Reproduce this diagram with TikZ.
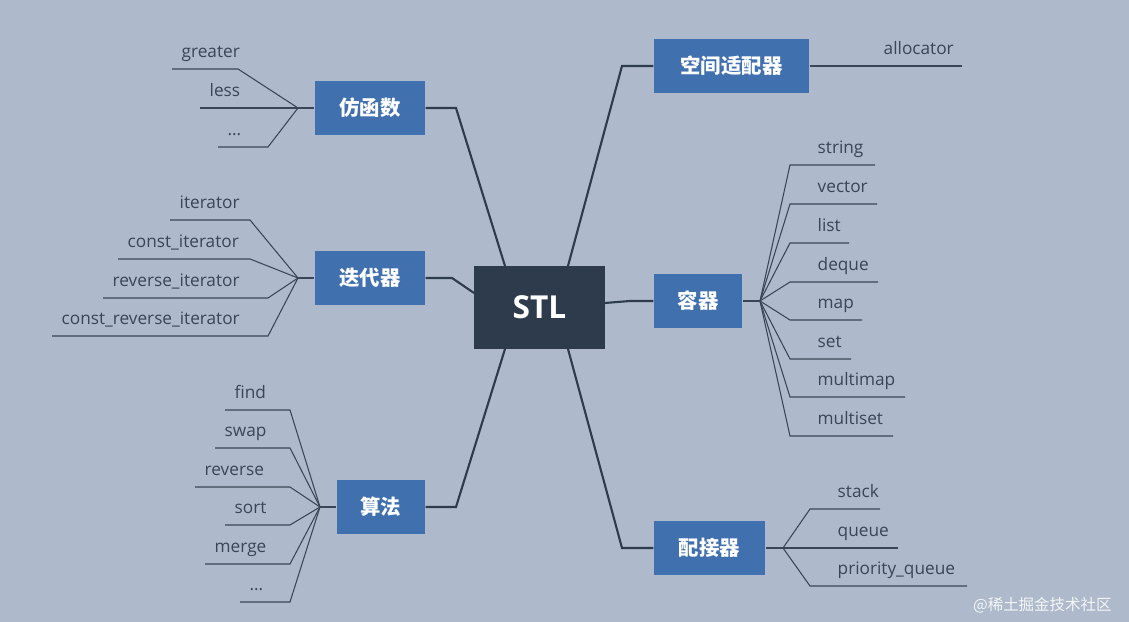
\documentclass[tikz,border=0pt]{standalone}
\usepackage{fontspec}
\setmainfont{Open Sans}
\newfontfamily\cjk{Noto Sans CJK SC}
\usetikzlibrary{positioning}
\definecolor{bgcol}{HTML}{AEBACB}
\definecolor{rootcol}{HTML}{2E3B4D}
\definecolor{boxcol}{HTML}{4070AD}
\definecolor{linecol}{HTML}{2E3B4D}
\definecolor{leafcol}{HTML}{3A4556}

\begin{document}
\begin{tikzpicture}[%
  x=0.01cm, y=-0.01cm,
  root/.style={fill=rootcol, text=white, font=\fontsize{9}{10}\selectfont\bfseries,
    minimum width=1.31cm, minimum height=0.83cm, inner sep=0pt},
  topic/.style={fill=boxcol, text=white, font=\cjk\fontsize{5.8}{6}\selectfont\bfseries,
    minimum height=0.54cm, inner sep=0pt},
  leaf/.style={text=leafcol, font=\fontsize{4.9}{5}\selectfont, anchor=base west, inner sep=0pt},
  branch/.style={draw=linecol, line width=0.6pt},
  twig/.style={draw=leafcol, line width=0.3pt},
]
  \fill[bgcol] (0,0) rectangle (1129,622);
  \useasboundingbox (0,0) rectangle (1129,622);

  % root and topics
  \node[root] (stl) at (539.5,307.5) {STL};
  \node[topic, minimum width=1.10cm] (func) at (370,108) {仿函数};
  \node[topic, minimum width=1.10cm] (iter) at (370,278) {迭代器};
  \node[topic, minimum width=0.88cm] (algo) at (381,507) {算法};
  \node[topic, minimum width=1.55cm] (alloc) at (731.5,66) {空间适配器};
  \node[topic, minimum width=0.88cm] (cont) at (698,301) {容器};
  \node[topic, minimum width=1.11cm] (adapt) at (709.5,548) {配接器};

  % branches
  \draw[branch] (func.east) -- (456,108) -- (505,266);
  \draw[branch] (iter.east) -- (452,278) -- (474,293);
  \draw[branch] (algo.east) -- (456,507) -- (505,349);
  \draw[branch] (alloc.west) -- (622,66) -- (568,266);
  \draw[branch] (cont.west) -- (630,301) -- (605,303);
  \draw[branch] (adapt.west) -- (622,548) -- (568,349);

  % fan points
  \coordinate (ffan) at (298,108);
  \coordinate (ifan) at (298,278);
  \coordinate (afan) at (320,507);
  \coordinate (cfan) at (760,301);
  \coordinate (pfan) at (783,548);
  \draw[twig] (ffan) -- (func.west);
  \draw[twig] (ifan) -- (iter.west);
  \draw[twig] (afan) -- (algo.west);
  \draw[twig] (cfan) -- (cont.east);
  \draw[twig] (pfan) -- (adapt.east);

  % left leaves: start/end/y/text
  \foreach \a/\b/\y/\t/\f in {172/238/69/greater/ffan, 200/268/108/less/ffan, 218/268/147/\dots/ffan,
      170/250/220/iterator/ifan, 118/250/259/const\_iterator/ifan,
      103/268/298/reverse\_iterator/ifan, 52/268/336/const\_reverse\_iterator/ifan,
      225/290/410/find/afan, 215/290/448/swap/afan, 195/290/487/reverse/afan,
      225/290/525/sort/afan, 205/290/564/merge/afan, 240/290/602/\dots/afan} {
    \coordinate (l-s) at (\a,\y);
    \coordinate (l-e) at (\b,\y);
    \node[leaf] (l-t) at (\a+9,\y-11) {\t};
    \draw[twig] (\f) -- (l-e) -- (l-s);
  }

  % right leaves
  \foreach \a/\b/\y/\t/\f in {790/875/165/string/cfan, 790/877/204/vector/cfan, 790/849/243/list/cfan,
      790/878/282/deque/cfan, 790/862/320/map/cfan, 790/851/359/set/cfan,
      790/905/397/multimap/cfan, 790/893/436/multiset/cfan,
      810/880/509/stack/pfan, 810/898/548/queue/pfan, 810/967/586/priority\_queue/pfan} {
    \coordinate (r-s) at (\a,\y);
    \coordinate (r-e) at (\b,\y);
    \node[leaf] (r-t) at (\a+27,\y-11) {\t};
    \draw[twig] (\f) -- (r-s) -- (r-e);
  }

  \coordinate (al-e) at (962,66);
  \node[leaf] (al-t) at (883,55) {allocator};
  \draw[twig] (alloc.east) -- (al-e);

  \node[text=white!85!bgcol, font=\cjk\fontsize{4.4}{5}\selectfont, anchor=east] (mark) at (1124,605) {@稀土掘金技术社区};
\end{tikzpicture}
\end{document}
